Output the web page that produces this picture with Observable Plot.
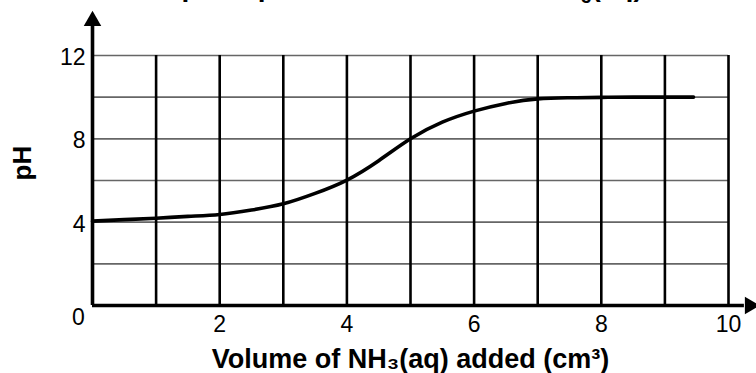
<!DOCTYPE html>
<html>
<head>
<meta charset="utf-8">
<script src="https://cdn.jsdelivr.net/npm/d3@7"></script>
<script src="https://cdn.jsdelivr.net/npm/@observablehq/plot@0.6"></script>
<style>
  body { margin: 0; background: #fff; font-family: "Liberation Sans", Arial, sans-serif; }
  #wrap { position: relative; width: 756px; height: 373px; overflow: hidden; }
  #title { position: absolute; left: 0; width: 756px; top: -27px; line-height: 1; text-align: center; font-weight: bold; font-size: 28px; padding-left: 20px; box-sizing: border-box; white-space: nowrap; }
  #title sub { font-size: 18px; line-height: 1; }
  #chart { position: absolute; left: 0; top: 0; }
</style>
</head>
<body>
<div id="wrap">
  <div id="chart"></div>
  <div id="title">Graph of pH versus volume of NH<sub>3</sub>(aq)</div>
</div>
<script>
// Data
const volume = [0, 0.5, 1, 1.5, 2, 2.5, 3, 3.5, 4, 4.5, 5, 5.5, 6, 6.5, 7, 7.5, 8, 8.5, 9, 9.45];
const pH =     [4.05, 4.12, 4.19, 4.28, 4.37, 4.58, 4.88, 5.38, 6.02, 6.95, 8.0, 8.8, 9.33, 9.7, 9.92, 9.97, 9.99, 10.0, 10.0, 10.0];

const xTicks = [2, 4, 6, 8, 10];
const yTicks = [4, 8, 12];
const vGrid = [1, 2, 3, 4, 5, 6, 7, 8, 9, 10];
const hGrid = [2, 4, 6, 8, 10, 12];
const xAxisEnd = [10.4];
const yAxisEnd = [13.9];
const xLabel = ["Volume of NH\u2083(aq) added (cm\u00B3)"];
const yLabel = ["pH"];
const originLabel = ["0"];

const data = volume.map((v, i) => ({volume: v, pH: pH[i]}));

const plot = Plot.plot({
  width: 756,
  height: 373,
  marginLeft: 92,
  marginRight: 28,
  marginTop: 55,
  marginBottom: 68,
  x: {domain: [0, 10], axis: null},
  y: {domain: [0, 12], axis: null},
  style: {fontFamily: "Liberation Sans, Arial, sans-serif", background: "#fff", overflow: "visible"},
  marks: [
    Plot.ruleY(hGrid, {x1: 0, x2: 10, stroke: "#666", strokeWidth: 1.6}),
    Plot.ruleX(vGrid, {y1: 0, y2: 12, stroke: "#000", strokeWidth: 2.6}),
    Plot.line(data, {x: "volume", y: "pH", curve: "natural", stroke: "#000", strokeWidth: 3.6}),
    // axes with arrows
    Plot.ruleY([0], {x1: 0, x2: xAxisEnd[0] - 0.15, stroke: "#000", strokeWidth: 3.6}),
    Plot.ruleX([0], {y1: 0, y2: yAxisEnd[0] - 0.5, stroke: "#000", strokeWidth: 3.6}),
    Plot.dot(xAxisEnd, {x: d => d, y: 0, symbol: "triangle", r: 6.5, fill: "#000", stroke: "none", rotate: 90, dx: -4}),
    Plot.dot(yAxisEnd, {x: 0, y: d => d, symbol: "triangle", r: 6.5, fill: "#000", stroke: "none", dy: 5}),
    Plot.axisX(xTicks, {tickSize: 0, tickPadding: 10, fontSize: 23, anchor: "bottom", label: null}),
    Plot.axisY(yTicks, {tickSize: 0, tickPadding: 7, fontSize: 23, anchor: "left", label: null, dy: 2}),
    Plot.text(originLabel, {x: 0, y: 0, text: d => d, dx: -14, dy: 12, fontSize: 23}),
    Plot.text(xLabel, {frameAnchor: "bottom", text: d => d, dy: 62, fontSize: 27, fontWeight: "bold"}),
    Plot.text(yLabel, {frameAnchor: "left", text: d => d, rotate: -90, dx: -70, dy: 0, fontSize: 26, fontWeight: "bold"})
  ]
});
document.getElementById("chart").appendChild(plot);
</script>
</body>
</html>
